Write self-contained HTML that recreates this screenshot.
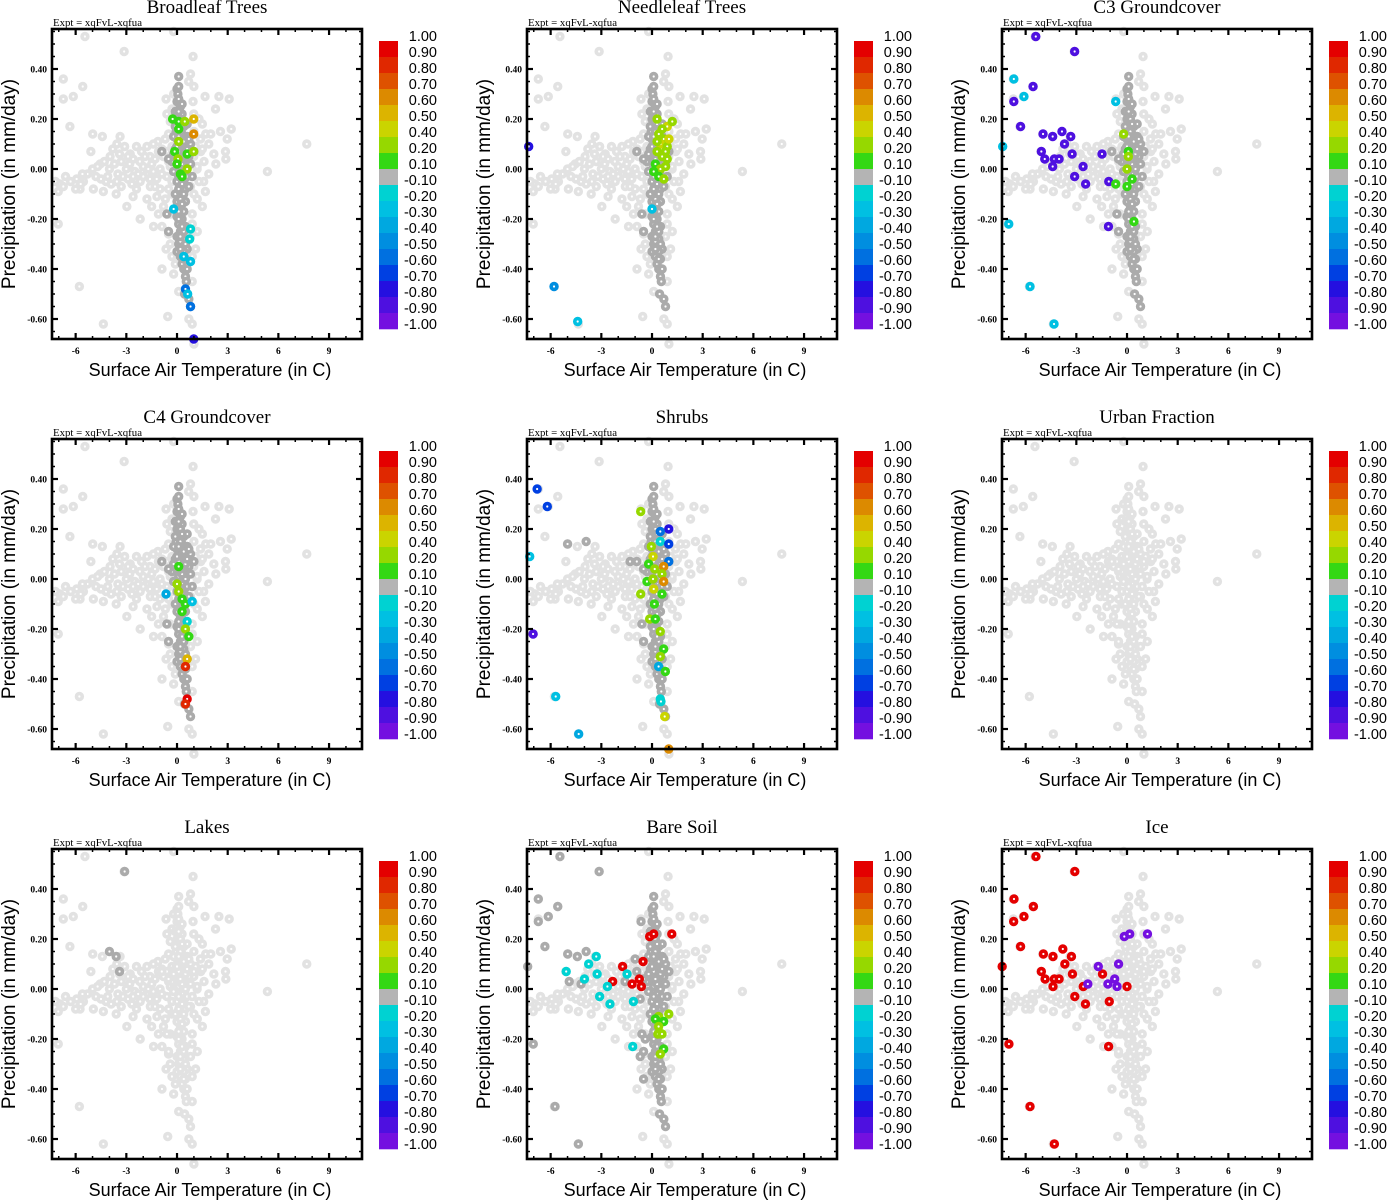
<!DOCTYPE html>
<html><head><meta charset="utf-8"><style>
body{margin:0;background:#fff}
svg{display:block}
</style></head><body>
<svg id="fig" width="1388" height="1200" xmlns="http://www.w3.org/2000/svg"></svg>
<script>
// ---- shared data ----
const panelTitles = ["Broadleaf Trees","Needleleaf Trees","C3 Groundcover","C4 Groundcover","Shrubs","Urban Fraction","Lakes","Bare Soil","Ice"];
const xTicks = [-6,-3,0,3,6,9];
const yTicks = [-0.6,-0.4,-0.2,0,0.2,0.4];
const yTickLabels = ["-0.60","-0.40","-0.20","0.00","0.20","0.40"];
const cbLabels = ["1.00","0.90","0.80","0.70","0.60","0.50","0.40","0.20","0.10","-0.10","-0.20","-0.30","-0.40","-0.50","-0.60","-0.70","-0.80","-0.90","-1.00"];
const cbEdges = [1,0.9,0.8,0.7,0.6,0.5,0.4,0.2,0.1,-0.1,-0.2,-0.3,-0.4,-0.5,-0.6,-0.7,-0.8,-0.9,-1];
const cbColors = ["#e40000","#e02800","#de5200","#dc8a00","#dcb400","#cad400","#96d800","#34d814","#b4b4b4","#00d2d2","#00c0e2","#00a8e0","#008ee0","#0070e0","#0040e2","#2410e0","#4e10e0","#7410e0"];

// background cloud (temperature C, precip mm/day)
const cloud = [[-5.45,0.53],[-3.13,0.47],[0.95,0.45],[-6.73,0.36],[-5.58,0.33],[-6.73,0.28],[-6.14,0.29],[0.69,0.35],[-0.65,0.28],[0.95,0.27],[1.66,0.29],[2.48,0.29],[3.09,0.28],[2.28,0.24],[0.99,0.22],[-6.34,0.17],[-4.99,0.14],[-4.42,0.13],[-3.37,0.13],[2.57,0.15],[3.21,0.16],[2.97,0.12],[1.39,0.12],[1.88,0.10],[2.87,0.07],[2.89,0.04],[7.68,0.10],[5.35,-0.01],[-1.13,0.11],[-1.78,0.09],[-3.56,0.10],[-5.1,0.07],[-3.96,0.05],[-2.77,0.06],[-4.55,0.02],[-5.94,-0.04],[-6.93,-0.06],[-7.03,-0.09],[-6.73,-0.07],[-5.54,-0.05],[-4.95,-0.08],[-4.36,-0.09],[-5.74,-0.08],[-3.56,-0.05],[-2.67,-0.06],[-2.18,-0.05],[-1.58,-0.07],[-1.19,-0.11],[-1.78,-0.12],[-0.69,-0.12],[-2.97,-0.15],[-2.18,-0.20],[-7.03,-0.22],[-1.39,-0.23],[-0.89,-0.23],[-0.5,-0.26],[-0.65,-0.32],[-0.89,-0.40],[-5.78,-0.47],[-4.36,-0.62],[-0.55,-0.59],[1.19,0.0],[1.68,-0.09],[1.88,-0.02],[1.58,-0.05],[2.18,0.06],[0.99,0.05],[1.19,0.01],[-4.0,0.0],[-3.5,-0.02],[-3.0,0.0],[-2.5,-0.01],[-2.0,0.01],[-1.5,0.02],[-1.0,0.0],[-0.5,0.03],[-2.2,0.03],[-3.2,-0.03],[-4.8,-0.03],[-5.3,-0.02],[-6.3,-0.05],[-2.8,0.02],[-1.8,-0.02],[-1.2,-0.04],[-0.8,0.05],[-0.3,-0.05],[-2.4,-0.08],[-1.0,-0.08],[-3.8,0.08],[-0.3,0.09],[-0.7,0.12],[0.8,-0.07],[1.2,-0.12],[1.0,0.15],[1.5,0.18],[-2.6,0.04],[-1.4,-0.01],[-0.6,-0.03],[-3.3,0.03],[-4.2,-0.05],[-1.6,0.05],[-0.9,0.08],[-2.0,-0.03],[1.4,0.07],[1.6,0.03],[1.0,-0.1],[0.9,-0.18],[0.8,-0.27],[1.1,-0.32],[0.9,-0.45],[-0.2,0.55],[1.0,-0.7],[-0.4,-0.18],[-0.2,-0.42],[0.1,-0.49],
[-3.7,0.02],[-3.4,0.06],[-2.9,-0.04],[-2.3,-0.02],[-1.9,0.05],[-1.3,0.04],[-1.1,0.07],[-0.6,0.07],[-0.4,0.01],[-0.9,-0.02],[-1.6,-0.04],[-2.6,-0.03],[-3.3,-0.07],[-4.5,-0.04],[-5.0,0.0],[-4.3,0.03],[-3.1,0.09],[-2.4,0.09],[-2.1,0.07],[-1.4,0.10],[-0.5,0.14],[-0.4,0.19],[-0.6,0.22],[-0.3,-0.10],[-0.8,-0.15],[-1.5,-0.15],[-2.6,-0.11],[-3.6,-0.10],[-4.1,-0.03],[-5.6,-0.02],[-6.0,-0.08],[-6.6,-0.03],[-7.2,-0.05],[1.3,0.2],[1.7,0.14],[1.3,-0.05],[1.5,-0.15],[1.1,0.09],[1.5,0.08],[2.0,0.14],[2.3,0.02],[0.9,-0.22],[0.9,-0.35],[1.0,0.33],[0.8,0.38],[-0.2,0.3],[-0.3,0.24],[-0.4,-0.3],[-0.3,-0.35],[-0.1,-0.38],[1.2,-0.25],[-1.1,-0.18],[-1.7,0.0],[-0.2,0.0],[-0.5,-0.08],[-1.3,-0.07],[-2.9,0.05],[-3.9,-0.06],[-4.7,0.01],[-5.7,-0.06],[0.7,-0.6],[0.9,-0.62]];

// central column (points where the PFT exists)
const column = [[0.1,0.37],[0.0,0.32],[0.05,0.30],[0.0,0.27],[0.2,0.25],[-0.1,0.23],[0.3,0.22],[0.0,0.20],[0.15,0.18],[0.4,0.17],[-0.05,0.15],[0.3,0.14],[0.6,0.13],[0.0,0.12],[0.2,0.10],[0.5,0.09],[-0.1,0.08],[0.3,0.06],[0.7,0.05],[0.0,0.04],[0.4,0.03],[0.1,0.01],[-0.2,-0.01],[0.3,-0.02],[0.6,-0.03],[0.0,-0.05],[0.2,-0.07],[0.5,-0.08],[-0.1,-0.10],[0.3,-0.11],[0.0,-0.13],[0.2,-0.15],[0.4,-0.17],[0.0,-0.19],[0.3,-0.20],[0.1,-0.22],[0.5,-0.23],[0.2,-0.25],[0.0,-0.27],[0.4,-0.28],[0.1,-0.30],[0.3,-0.32],[0.6,-0.32],[0.0,-0.33],[0.2,-0.35],[0.5,-0.36],[0.3,-0.38],[0.4,-0.40],[0.6,-0.40],[0.5,-0.43],[0.55,-0.45],[0.45,-0.50],[0.7,-0.52],[0.8,-0.55],[-0.9,0.07],[0.1,0.28],[0.2,0.20],[0.4,0.11],[0.1,0.07],[0.5,0.0],[0.1,-0.03],[0.4,-0.05],[0.2,-0.09],[0.5,-0.13],[0.1,-0.17],[0.4,-0.25],[0.2,-0.29],[0.4,-0.33],[-0.1,0.17],[0.6,0.18],[0.8,0.10],[0.8,0.02],[0.9,-0.03],[-0.3,0.03],[-0.2,0.13],[0.1,0.33],[0.3,0.02],[0.0,0.09],[-0.6,-0.18],[-0.5,-0.25],[1.0,0.07],[-0.5,0.04],
[0.2,0.15],[0.3,0.18],[0.1,0.13],[0.5,0.06],[0.2,0.04],[0.6,0.08],[0.3,-0.06],[0.1,-0.08],[0.4,-0.10],[0.2,-0.12],[0.3,-0.14],[0.1,-0.20],[0.3,-0.23],[0.2,-0.27],[0.5,-0.30],[0.2,-0.32],[0.4,-0.36],[0.1,0.23],[0.3,0.26],[-0.2,0.06],[0.7,-0.07],[0.7,0.12]];

const broadleafPts = [[-0.26,0.20,0.1],[0.1,0.19,0.1],[0.46,0.19,0.3],[0.99,0.20,0.5],[0.1,0.16,0.1],[0.99,0.14,0.65],[0.1,0.11,0.3],[-0.14,0.07,0.1],[0.6,0.06,0.1],[0.99,0.07,0.3],[0.06,0.04,0.3],[0.0,0.02,0.1],[0.6,0.0,0.3],[0.2,-0.02,0.1],[0.3,-0.03,0.1],[-0.2,-0.16,-0.3],[0.8,-0.24,-0.2],[0.75,-0.28,-0.2],[0.4,-0.35,-0.3],[0.8,-0.37,-0.3],[0.5,-0.48,-0.6],[0.63,-0.50,-0.3],[0.8,-0.55,-0.6],[0.99,-0.68,-0.8]];
const needleleafPts = [[-7.3,0.09,-0.8],[-5.8,-0.47,-0.5],[-4.4,-0.61,-0.3],[0.0,-0.16,-0.3],[0.3,0.20,0.3],[0.9,0.17,0.4],[1.2,0.19,0.2],[0.4,0.14,0.2],[0.7,0.12,0.3],[0.5,0.10,0.4],[0.9,0.09,0.3],[0.3,0.07,0.2],[0.6,0.05,0.3],[0.9,0.04,0.3],[0.2,0.02,0.1],[0.5,0.0,0.2],[0.8,0.01,0.3],[0.4,-0.03,0.1],[0.7,-0.04,0.2],[0.1,-0.01,0.1],[1.0,0.12,0.4],[0.6,0.16,0.2],[0.3,0.11,0.3],[0.8,0.07,0.3]];
const c3Pts = [[-5.4,0.53,-0.9],[-3.1,0.47,-0.9],[-6.7,0.36,-0.3],[-5.56,0.33,-0.9],[-6.1,0.29,-0.3],[-6.7,0.27,-0.9],[-0.67,0.27,-0.3],[-6.3,0.17,-0.9],[-4.97,0.14,-0.9],[-4.4,0.13,-0.9],[-3.85,0.15,-0.9],[-3.33,0.13,-0.9],[-3.7,0.10,-0.9],[-7.36,0.09,-0.3],[-5.07,0.07,-0.9],[-4.87,0.04,-0.9],[-4.3,0.04,-0.9],[-4.02,0.04,-0.9],[-4.4,0.01,-0.9],[-3.25,0.06,-0.9],[-2.6,0.01,-0.9],[-3.1,-0.03,-0.9],[-2.45,-0.06,-0.9],[-1.48,0.06,-0.9],[-1.08,-0.05,-0.9],[-1.1,-0.23,-0.9],[-7.0,-0.22,-0.3],[-5.74,-0.47,-0.3],[-4.32,-0.62,-0.3],[-0.2,0.14,0.3],[0.08,0.07,0.1],[0.08,0.05,0.3],[0.0,0.0,0.3],[0.3,-0.04,0.1],[-0.67,-0.06,0.1],[0.0,-0.07,0.1],[0.41,-0.21,0.1]];
const c4Pts = [[0.1,0.05,0.1],[-0.65,-0.06,-0.4],[0.1,-0.05,0.2],[0.3,-0.08,0.1],[0.5,-0.1,0.1],[0.9,-0.09,-0.3],[0.6,-0.17,-0.2],[0.5,-0.20,0.3],[0.7,-0.23,0.1],[0.6,-0.32,0.5],[0.5,-0.35,0.8],[0.6,-0.48,0.9],[0.5,-0.50,0.8],[0.3,-0.13,0.1],[0.0,-0.02,0.3]];
const shrubPts = [[-6.8,0.36,-0.7],[-6.2,0.29,-0.7],[-7.24,0.09,-0.3],[-7.04,-0.22,-0.9],[-5.7,-0.47,-0.3],[-4.34,-0.62,-0.4],[-0.67,0.27,0.3],[0.99,0.20,-0.8],[0.49,0.19,-0.6],[0.49,0.15,-0.2],[0.99,0.14,-0.7],[-0.04,0.13,0.3],[0.06,0.09,0.45],[0.99,0.07,-0.6],[-0.2,0.06,0.1],[0.16,0.04,0.3],[0.69,0.05,0.65],[0.59,0.02,0.2],[-0.3,-0.01,0.1],[0.06,0.0,0.3],[0.69,-0.01,0.65],[0.1,-0.04,0.4],[0.59,-0.06,0.1],[-0.67,-0.06,0.3],[0.14,-0.10,0.1],[-0.14,-0.16,0.3],[0.2,-0.16,0.1],[0.49,-0.21,0.2],[0.69,-0.28,0.1],[0.49,-0.31,0.3],[0.39,-0.35,-0.4],[0.79,-0.37,0.1],[0.49,-0.48,-0.2],[0.53,-0.49,-0.2],[0.75,-0.55,0.45],[0.99,-0.68,0.6]];
const urbanPts = [];
const lakePts = [];
const bareSoilPts = [[-0.14,0.21,0.95],[0.1,0.22,0.95],[1.17,0.22,0.95],[-1.74,0.09,0.95],[-0.53,0.11,0.95],[-2.33,0.03,0.95],[-1.18,0.02,0.95],[-0.75,0.04,0.95],[-0.63,0.01,0.95],[-5.08,0.07,-0.15],[-3.75,0.10,-0.15],[-3.3,0.13,-0.15],[-4.0,0.04,-0.15],[-3.25,0.06,-0.15],[-2.64,0.01,-0.15],[-3.1,-0.03,-0.15],[-2.49,-0.06,-0.15],[-1.48,0.06,-0.15],[-1.1,-0.05,-0.15],[-1.14,-0.23,-0.15],[0.39,-0.11,0.3],[0.99,-0.10,0.3],[0.2,-0.12,0.1],[0.69,-0.13,0.1],[0.39,-0.15,0.3],[0.35,-0.18,0.3],[0.59,-0.18,0.3],[0.69,-0.24,0.1],[0.49,-0.26,0.3]];
const icePts = [[-5.39,0.53,0.95],[-3.09,0.47,0.95],[-6.69,0.36,0.95],[-5.54,0.33,0.95],[-6.71,0.27,0.95],[-6.1,0.29,0.95],[-6.3,0.17,0.95],[-7.39,0.09,0.95],[-4.95,0.14,0.95],[-4.38,0.13,0.95],[-3.8,0.16,0.95],[-3.29,0.13,0.95],[-3.68,0.10,0.95],[-5.07,0.07,0.95],[-4.85,0.04,0.95],[-4.3,0.04,0.95],[-4.02,0.04,0.95],[-4.38,0.01,0.95],[-3.23,0.06,0.95],[-2.59,0.01,0.95],[-3.09,-0.03,0.95],[-2.46,-0.06,0.95],[-1.45,0.06,0.95],[-1.05,-0.05,0.95],[0.0,0.01,0.95],[-1.09,-0.23,0.95],[-6.99,-0.22,0.95],[-5.74,-0.47,0.95],[-4.3,-0.62,0.95],[-0.16,0.21,-0.95],[0.16,0.22,-0.95],[1.21,0.22,-0.95],[-1.7,0.09,-0.95],[-0.5,0.10,-0.95],[-2.32,0.02,-0.95],[-1.13,0.02,-0.95],[-0.73,0.04,-0.95],[-0.59,0.01,-0.95]];
// extra dark-gray (present, small change) points off the column
const shrubDark = [[-5.0,0.14],[-3.9,0.15],[-1.3,0.07]];
const lakeDark = [[-3.1,0.47],[-4.0,0.15],[-3.6,0.13],[-3.4,0.07]];
const bareDark = [[-5.45,0.53],[-3.13,0.47],[-6.73,0.36],[-6.14,0.29],[-6.73,0.27],[-5.58,0.33],[-6.34,0.17],[-4.99,0.14],[-4.42,0.13],[-3.9,0.15],[-4.9,0.03],[-4.2,0.02],[-7.36,0.09],[-7.03,-0.22],[-5.74,-0.47],[-4.36,-0.62],[-0.65,0.27],[-1.0,0.12],[-0.7,-0.04],[-1.6,0.03],[-0.7,-0.27],[-0.5,-0.36],[-0.4,-0.20]];

const panelPts = [broadleafPts,needleleafPts,c3Pts,c4Pts,shrubPts,urbanPts,lakePts,bareSoilPts,icePts];
const panelDark = [[],[],[],[],shrubDark,[],lakeDark,bareDark,[]];
const panelHasColumn = [true,true,true,true,true,false,false,true,false];

// ---- drawing ----
const NS = "http://www.w3.org/2000/svg";
const svg = document.getElementById("fig");
function el(tag, attrs, parent, text){
  const e = document.createElementNS(NS, tag);
  for (const k in attrs) e.setAttribute(k, attrs[k]);
  if (text !== undefined) e.textContent = text;
  (parent || svg).appendChild(e);
  return e;
}
const X0 = 52, Y0 = 29, W = 310, H = 310, DX = 475, DY = 410;
const xMin = -7.4, xMax = 10.95, yMin = -0.68, yMax = 0.56;
function colorFor(v){
  for (let i = 0; i < cbColors.length; i++) if (v >= cbEdges[i+1]) return cbColors[i];
  return cbColors[cbColors.length-1];
}

panelTitles.forEach((title, p) => {
  const ox = X0 + (p % 3) * DX, oy = Y0 + Math.floor(p / 3) * DY;
  const sx = v => ox + (v - xMin) / (xMax - xMin) * W;
  const sy = v => oy + (yMax - v) / (yMax - yMin) * H;
  const g = el("g", {});
  
  

  const t = el("text", {x: ox + W/2, y: oy - 16, "text-anchor":"middle", "font-family":"Liberation Serif, serif", "font-size":"19"}, g, title);
  
  
  const ex = el("text", {x: ox + 1, y: oy - 3, "font-family":"Liberation Serif, serif", "font-size":"10.5", "textLength":"89", "lengthAdjust":"spacingAndGlyphs"}, g, "Expt = xqFvL-xqfua");
  
  

  const pg = el("g", {}, g);
  
  
  function dot(x, y, c){
    const d = el("circle", {cx: sx(x), cy: sy(y), r: 2.9, fill: "#fff", stroke: c, "stroke-width": 3.6}, pg);
    
    
  }
  cloud.forEach(q => dot(q[0], q[1], "#e2e2e2"));
  column.forEach(q => dot(q[0], q[1], panelHasColumn[p] ? "#ababab" : "#e2e2e2"));
  panelDark[p].forEach(q => dot(q[0], q[1], "#ababab"));
  panelPts[p].forEach(q => dot(q[0], q[1], colorFor(q[2])));

  // frame
  const fr = el("rect", {x: ox, y: oy, width: W, height: H, fill: "none", stroke: "#000", "stroke-width": 2.6}, g);
  
  
  for (let v = -7; v <= 10; v++) {
    const major = xTicks.includes(v), L = major ? 6 : 3;
    el("line", {x1: sx(v), x2: sx(v), y1: oy + H, y2: oy + H - L, stroke: "#000", "stroke-width": major ? 2.2 : 1.5}, g);
    el("line", {x1: sx(v), x2: sx(v), y1: oy, y2: oy + L, stroke: "#000", "stroke-width": major ? 2.2 : 1.5}, g);
  }
  for (let k = -13; k <= 11; k++) {
    const v = k * 0.05, major = (k % 4 === 0), L = major ? 6 : 3;
    el("line", {x1: ox, x2: ox + L, y1: sy(v), y2: sy(v), stroke: "#000", "stroke-width": major ? 2.2 : 1.5}, g);
    el("line", {x1: ox + W, x2: ox + W - L, y1: sy(v), y2: sy(v), stroke: "#000", "stroke-width": major ? 2.2 : 1.5}, g);
  }
  xTicks.forEach(v => {
    const tl = el("text", {x: sx(v), y: oy + H + 15, "text-anchor":"middle", "font-family":"Liberation Serif, serif", "font-size":"9.5", "font-weight":"bold"}, g, String(v));
    
    
  });
  yTicks.forEach((v, i) => {
    const tl = el("text", {x: ox - 5, y: sy(v) + 3.5, "text-anchor":"end", "font-family":"Liberation Serif, serif", "font-size":"9.5", "font-weight":"bold"}, g, yTickLabels[i]);
    
    
  });
  const xt = el("text", {x: ox + W/2 + 3, y: oy + H + 37, "text-anchor":"middle", "font-family":"Liberation Sans, sans-serif", "font-size":"18"}, g, "Surface Air Temperature (in C)");
  
  
  const yt = el("text", {x: 0, y: 0, "text-anchor":"middle", "font-family":"Liberation Sans, sans-serif", "font-size":"19", transform: "translate(" + (ox - 37) + "," + (oy + 155) + ") rotate(-90)"}, g, "Precipitation (in mm/day)");
  
  

  // colorbar
  const cb = el("g", {}, g);
  
  
  const cbx = ox + 327, cby = oy + 12, bh = 16;
  cbColors.forEach((c, i) => {
    const r = el("rect", {x: cbx, y: cby + i * bh, width: 19, height: bh + 0.3, fill: c}, cb);
    
    
  });
  cbLabels.forEach((s, i) => {
    const lt = el("text", {x: ox + 385, y: cby + i * bh, "text-anchor":"end", "font-family":"Liberation Sans, sans-serif", "font-size":"14.5"}, cb, s);
    
    
  });
});
</script>
</body></html>
